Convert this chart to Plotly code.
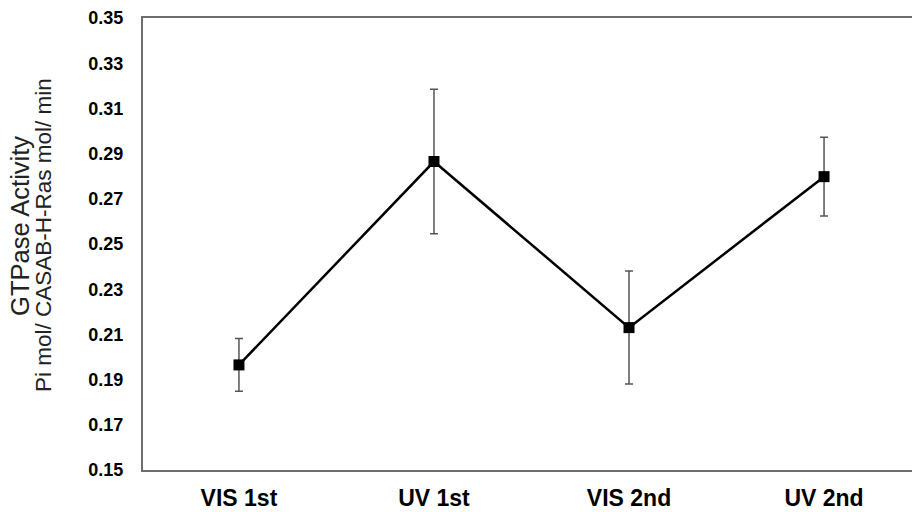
import plotly.graph_objects as go

# Irradiation conditions and measured GTPase activity (mean ± error)
conditions = ["VIS 1st", "UV 1st", "VIS 2nd", "UV 2nd"]
activity = [0.1965, 0.2865, 0.2130, 0.2798]
activity_err = [0.0117, 0.0320, 0.0250, 0.0174]
y_ticks = [0.15, 0.17, 0.19, 0.21, 0.23, 0.25, 0.27, 0.29, 0.31, 0.33, 0.35]

x_pos = list(range(len(conditions)))

fig = go.Figure()
fig.add_trace(go.Scatter(
    x=x_pos,
    y=activity,
    mode="lines+markers",
    line=dict(color="black", width=2.5),
    marker=dict(symbol="square", size=11, color="black"),
    error_y=dict(type="data", array=activity_err, visible=True,
                 color="#555555", thickness=1.5, width=4),
    showlegend=False,
))

frame = "#6e6e6e"
fig.update_layout(
    width=912, height=512,
    margin=dict(l=143, r=0, t=18, b=42),
    paper_bgcolor="white",
    plot_bgcolor="white",
    font=dict(family="Liberation Sans, Arial, sans-serif", color="black"),
    xaxis=dict(
        range=[-0.492, 3.451],
        tickvals=x_pos,
        ticktext=conditions,
        tickfont=dict(size=23, family="Liberation Sans, Arial, sans-serif", weight="bold"),
        showgrid=False, zeroline=False,
        showline=True, linecolor=frame, linewidth=2, mirror=True,
        ticks="", ticklabelstandoff=6,
    ),
    yaxis=dict(
        range=[0.15, 0.35],
        tickvals=y_ticks,
        tickformat=".2f",
        tickfont=dict(size=18, family="Liberation Sans, Arial, sans-serif", weight="bold"),
        showgrid=False, zeroline=False,
        showline=True, linecolor=frame, linewidth=2, mirror=False,
        ticks="", ticklabelstandoff=14,
    ),
)

# Two-line y-axis title, each line placed as its own rotated label
fig.add_annotation(text="GTPase Activity", xref="paper", yref="paper",
                   x=-143/769 + 20/769, y=0.54, xanchor="center", yanchor="middle",
                   textangle=-90, showarrow=False,
                   font=dict(size=25.5, family="Liberation Sans, Arial, sans-serif", color="#222222"))
fig.add_annotation(text="Pi mol/ CASAB-H-Ras mol/ min", xref="paper", yref="paper",
                   x=-143/769 + 44/769, y=0.52, xanchor="center", yanchor="middle",
                   textangle=-90, showarrow=False,
                   font=dict(size=22.5, family="Liberation Sans, Arial, sans-serif", color="#222222"))

fig.write_html("out.html")
